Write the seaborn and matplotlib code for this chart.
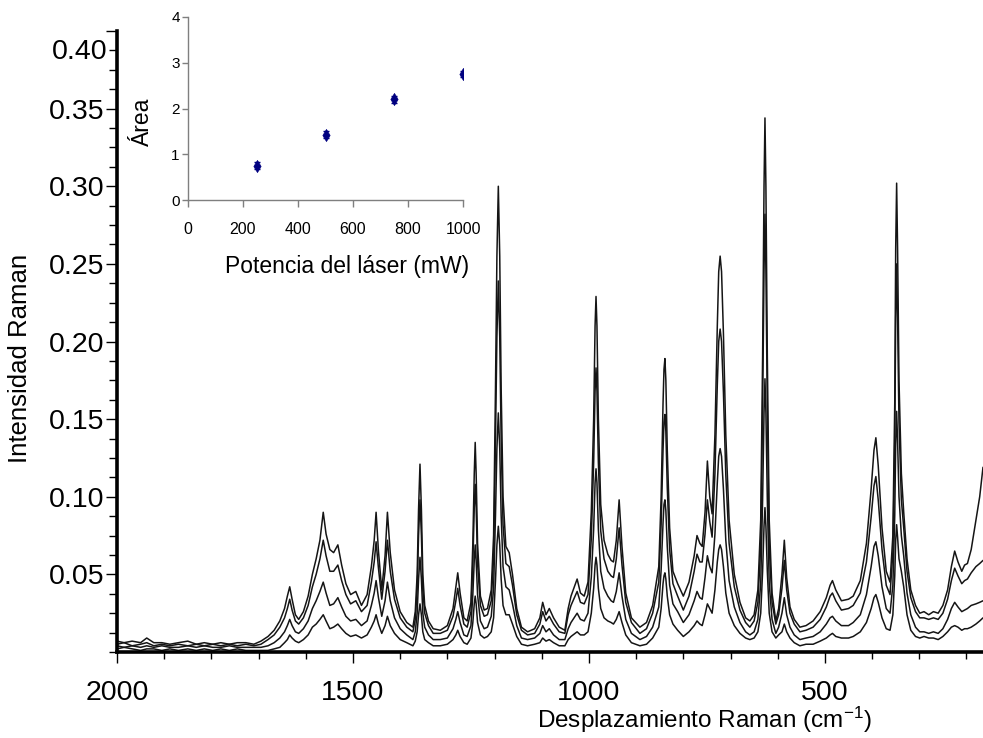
import numpy as np
import pandas as pd
import seaborn as sns
import matplotlib
matplotlib.use("Agg")
import matplotlib.pyplot as plt
from matplotlib.ticker import MultipleLocator, FixedLocator, FuncFormatter

# ---------------- data ----------------
wavenumber = [2000, 1985, 1968, 1950, 1937, 1922, 1905, 1888, 1870, 1850, 1832, 1815, 1797, 1780, 1762, 1745, 1727, 1710,
              1695, 1680, 1667, 1655, 1645, 1639, 1634, 1629, 1622, 1615, 1605, 1595, 1586, 1578, 1570, 1563, 1557, 1549,
              1541, 1532, 1524, 1515, 1505, 1494, 1482, 1470, 1461, 1455, 1451, 1446, 1439, 1432, 1427, 1421, 1412, 1400,
              1386, 1373, 1368, 1364, 1361, 1358, 1355, 1352, 1348, 1340, 1330, 1315, 1300,
              1288, 1282, 1278, 1273, 1265, 1258, 1250, 1246, 1243, 1241, 1239, 1236, 1230, 1222, 1215,
              1207, 1202, 1198, 1195, 1192, 1189, 1186, 1182, 1176, 1169, 1162, 1153, 1143, 1130,
              1115, 1104, 1098, 1091, 1084, 1075, 1063, 1051, 1044, 1038, 1025, 1018, 1010, 1002,
              995, 990, 987, 985, 983, 980, 975, 968, 960, 953, 948,
              942, 936, 930, 922, 910, 892, 878, 865,
              852, 847, 843, 841, 839, 837, 834, 829, 822, 812, 800,
              788, 777, 771, 765, 760, 754, 749, 744, 739,
              733, 728, 725, 722, 719, 715, 710, 703, 692, 680, 668, 659,
              650, 642, 636, 632, 629, 627, 625, 622, 618, 612, 604,
              598, 591, 586, 581, 574, 565, 553, 540, 525, 510, 497, 489, 484, 477, 465, 450, 440, 425, 412,
              402, 396, 392, 387, 379, 370, 362,
              356, 352, 350, 348, 346, 343, 338, 333, 326, 318, 308, 299,
              290, 280, 270, 260, 250, 240, 232, 225, 218, 210, 204, 198, 190, 180, 172, 165]

int_1000mW = [.007, .006, .007, .006, .009, .006, .006, .005, .006, .007, .005, .006, .005, .006, .005, .006, .006, .005,
              .007, .010, .014, .020, .028, .036, .042, .034, .024, .021, .026, .036, .050, .060, .072, .090, .076, .066,
              .064, .069, .056, .044, .037, .039, .030, .037, .055, .072, .090, .065, .040, .062, .090, .064, .040, .026,
              .019, .016, .026, .050, .092, .121, .092, .050, .030, .020, .015, .014, .017,
              .028, .042, .051, .038, .022, .020, .032, .070, .115, .135, .115, .070, .036, .027, .028,
              .040, .075, .170, .255, .300, .255, .170, .100, .068, .064, .050, .028, .016, .013,
              .015, .022, .032, .024, .028, .022, .016, .014, .028, .036, .047, .038, .036, .045,
              .090, .150, .210, .229, .210, .150, .095, .072, .063, .059, .058,
              .072, .098, .068, .038, .022, .016, .019, .030,
              .055, .100, .160, .182, .189, .175, .130, .080, .052, .044, .036,
              .045, .062, .075, .070, .068, .090, .123, .100, .089,
              .140, .210, .245, .255, .245, .205, .140, .085, .050, .032, .022, .020,
              .024, .040, .085, .190, .300, .344, .300, .190, .085, .038, .020,
              .028, .050, .072, .048, .029, .021, .016, .017, .020, .026, .035, .043, .046, .040, .033, .034, .036, .046, .070,
              .105, .130, .138, .120, .080, .052, .045,
              .075, .160, .260, .302, .260, .175, .115, .090, .060, .040, .030, .025,
              .026, .024, .026, .025, .030, .040, .055, .065, .058, .052, .056, .057, .066, .085, .100, .119]

int_750mW = [.005, .006, .004, .005, .006, .004, .005, .004, .005, .004, .005, .004, .005, .004, .005, .004, .005, .004,
             .005, .008, .011, .016, .022, .028, .034, .027, .020, .018, .022, .030, .042, .050, .060, .072, .062, .052,
             .052, .056, .046, .037, .031, .033, .026, .030, .045, .058, .071, .054, .034, .052, .072, .052, .034, .022,
             .016, .013, .021, .040, .075, .098, .075, .040, .025, .017, .012, .012, .014,
             .023, .033, .041, .030, .018, .016, .026, .057, .093, .108, .093, .057, .030, .023, .024,
             .033, .061, .136, .203, .239, .203, .136, .082, .057, .055, .043, .024, .014, .011,
             .012, .018, .026, .020, .023, .018, .013, .012, .024, .030, .039, .032, .031, .037,
             .073, .122, .168, .183, .168, .122, .078, .060, .052, .049, .048,
             .060, .080, .056, .032, .019, .012, .015, .025,
             .045, .082, .130, .148, .153, .142, .106, .066, .044, .036, .027,
             .036, .052, .063, .058, .058, .076, .098, .084, .074,
             .115, .172, .200, .208, .200, .167, .114, .070, .042, .027, .019, .016,
             .020, .032, .068, .155, .246, .282, .246, .155, .068, .032, .018,
             .024, .041, .059, .040, .025, .018, .013, .014, .016, .021, .029, .036, .038, .033, .027, .028, .030, .038, .058,
             .087, .107, .113, .098, .066, .043, .037,
             .064, .135, .215, .250, .215, .148, .098, .080, .052, .035, .026, .022,
             .022, .021, .022, .021, .025, .034, .046, .054, .049, .044, .046, .047, .051, .055, .057, .059]

int_500mW = [.004, .003, .004, .003, .004, .003, .004, .003, .003, .004, .003, .004, .003, .003, .004, .003, .003, .003,
             .003, .004, .006, .009, .013, .017, .021, .017, .013, .012, .015, .020, .028, .033, .039, .045, .038, .030,
             .031, .035, .029, .023, .020, .021, .017, .020, .030, .038, .046, .035, .023, .033, .045, .033, .022, .015,
             .011, .008, .013, .025, .047, .061, .047, .025, .016, .011, .008, .008, .009,
             .015, .021, .026, .019, .011, .010, .017, .037, .059, .069, .059, .037, .020, .015, .016,
             .023, .041, .088, .131, .154, .131, .088, .055, .042, .040, .031, .017, .009, .008,
             .009, .012, .017, .013, .015, .011, .008, .008, .015, .019, .025, .021, .020, .025,
             .048, .079, .109, .118, .109, .079, .052, .041, .036, .033, .032,
             .039, .051, .036, .021, .012, .008, .010, .016,
             .029, .053, .083, .095, .098, .091, .068, .043, .031, .026, .019,
             .024, .033, .039, .035, .034, .048, .062, .055, .051,
             .076, .109, .126, .131, .126, .105, .072, .046, .029, .019, .013, .011,
             .013, .021, .044, .098, .154, .176, .154, .098, .044, .021, .012,
             .016, .025, .035, .024, .016, .011, .008, .009, .010, .013, .018, .022, .023, .020, .017, .017, .019, .024, .037,
             .055, .068, .071, .062, .042, .028, .025,
             .043, .088, .134, .155, .136, .100, .075, .062, .038, .024, .016, .013,
             .013, .012, .013, .012, .015, .021, .028, .032, .029, .026, .027, .028, .030, .031, .032, .033]

int_250mW = [.002, .003, .002, .001, .002, .002, .001, .002, .001, .002, .001, .002, .001, .002, .001, .002, .001, .001,
             .001, .001, .002, .003, .006, .008, .011, .009, .007, .006, .008, .011, .016, .018, .021, .024, .020, .015,
             .016, .018, .015, .012, .010, .011, .009, .011, .016, .020, .024, .018, .012, .017, .023, .017, .012, .008,
             .006, .004, .007, .013, .024, .031, .024, .013, .008, .006, .004, .004, .005,
             .008, .011, .014, .010, .006, .005, .009, .019, .031, .036, .031, .019, .011, .009, .010,
             .013, .022, .046, .069, .081, .069, .047, .030, .024, .024, .018, .010, .005, .004,
             .005, .006, .009, .007, .008, .006, .004, .004, .008, .010, .013, .011, .011, .013,
             .025, .041, .056, .061, .056, .041, .028, .022, .020, .019, .018,
             .021, .026, .019, .011, .006, .004, .005, .009,
             .016, .028, .044, .049, .051, .047, .036, .024, .018, .014, .010,
             .013, .017, .020, .018, .017, .024, .031, .028, .025,
             .040, .058, .066, .069, .066, .055, .038, .025, .017, .012, .009, .008,
             .009, .013, .025, .052, .081, .093, .081, .052, .025, .013, .009,
             .011, .013, .018, .013, .009, .006, .004, .005, .005, .007, .009, .011, .012, .010, .009, .009, .010, .013, .019,
             .028, .035, .037, .032, .022, .015, .014,
             .024, .049, .072, .082, .074, .060, .052, .042, .024, .014, .010, .009,
             .010, .009, .009, .008, .010, .013, .016, .017, .016, .014, .015, .015, .016, .018, .020, .022]

curve_names = ["1000 mW", "750 mW", "500 mW", "250 mW"]

laser_power = [250, 500, 750, 1000]
area = [0.75, 1.43, 2.20, 2.75]
area_err = [0.07, 0.07, 0.07, 0.07]

y_major = [0.05, 0.10, 0.15, 0.20, 0.25, 0.30, 0.35, 0.40]
x_major = [2000, 1500, 1000, 500]

# ---------------- style ----------------
sns.set_style("ticks")
plt.rcParams["font.family"] = ["Liberation Sans", "DejaVu Sans"]
plt.rcParams["mathtext.fontset"] = "custom"
plt.rcParams["mathtext.rm"] = "Liberation Sans"
plt.rcParams["mathtext.default"] = "regular"

W, H = 983, 738
fig = plt.figure(figsize=(W / 100, H / 100), dpi=100)

# main axes (pixel box: left 117, right 983, top 31, bottom 652)
ax = fig.add_axes([117 / W, (H - 652) / H, 866 / W, 621 / H])

frames = []
for name, vals in zip(curve_names, [int_1000mW, int_750mW, int_500mW, int_250mW]):
    frames.append(pd.DataFrame({"w": wavenumber, "I": vals, "curve": name}))
df = pd.concat(frames, ignore_index=True)

sns.lineplot(data=df, x="w", y="I", hue="curve", palette=["#151515"] * 4,
             estimator=None, sort=False, legend=False, linewidth=1.1, ax=ax)

ax.set_xlim(2000, 165)
ax.set_ylim(0.0, 0.40)
for s in ["top", "right"]:
    ax.spines[s].set_visible(False)
for s in ["left", "bottom"]:
    ax.spines[s].set_linewidth(2.6)
    ax.spines[s].set_color("black")

ax.yaxis.set_major_locator(FixedLocator(y_major))
ax.yaxis.set_minor_locator(MultipleLocator(0.0125))
ax.yaxis.set_major_formatter(FuncFormatter(lambda v, p: "" if v > 0.395 else f"{v:.2f}"))
ax.xaxis.set_major_locator(FixedLocator(x_major))
ax.xaxis.set_minor_locator(MultipleLocator(100))
ax.xaxis.set_major_formatter(FuncFormatter(lambda v, p: f"{v:.0f}"))

ax.tick_params(axis="y", which="major", direction="out", length=8, width=1, pad=1,
               labelsize=20.5, colors="black")
ax.tick_params(axis="y", which="minor", direction="out", length=6, width=1, colors="black")
ax.tick_params(axis="x", which="major", direction="out", length=8, width=1, pad=12,
               labelsize=20.5, colors="black")
ax.tick_params(axis="x", which="minor", direction="out", length=5, width=1, colors="black")

# top label sits lower than its tick in the original
ax.text(-0.0105, 0.3866, "0.40", transform=ax.get_yaxis_transform(), ha="right",
        va="center", fontsize=20.5, color="black")

ax.set_xlabel("Desplazamiento Raman (cm$^{-1}$)", fontsize=17.5, color="black")
ax.xaxis.label.set_va("center")
ax.xaxis.set_label_coords(0.678, -0.1095)
ax.set_ylabel("Intensidad Raman", fontsize=18.5, color="black")
ax.yaxis.label.set_va("center")
ax.yaxis.set_label_coords(-0.112, 0.473)
ax.set_facecolor("none")

# inset (pixel box: left 188, right 463, top 17, bottom 200)
ins = fig.add_axes([188 / W, (H - 200) / H, 275 / W, 183 / H])
ins.set_facecolor("none")
ins.errorbar(laser_power, area, yerr=area_err, fmt="none", ecolor="#000080",
             elinewidth=1.0, capsize=2.5, capthick=1.0, zorder=2)
sns.scatterplot(x=laser_power, y=area, marker="d", s=38, color="#000080",
                edgecolor="#000080", ax=ins, zorder=3)
ins.set_xlim(0, 1000)
ins.set_ylim(0, 4)
ins.xaxis.set_major_locator(MultipleLocator(200))
ins.yaxis.set_major_locator(MultipleLocator(1))
for s in ["top", "right"]:
    ins.spines[s].set_visible(False)
for s in ["left", "bottom"]:
    ins.spines[s].set_color("#7f7f7f")
    ins.spines[s].set_linewidth(1.0)
ins.tick_params(axis="x", direction="out", length=5, width=1, color="#7f7f7f",
                pad=11, labelsize=11.5, labelcolor="black")
ins.tick_params(axis="y", direction="out", length=4, width=1, color="#7f7f7f",
                pad=2, labelsize=11, labelcolor="black")
for lab in ins.get_xticklabels():
    lab.set_family(["Liberation Sans Narrow", "Liberation Sans"])
ins.set_xlabel("Potencia del láser (mW)", fontsize=16.5, color="black")
ins.xaxis.label.set_va("center")
ins.xaxis.set_label_coords(0.578, -0.366)
ins.set_ylabel("Área", fontsize=16.5, color="black")
ins.yaxis.label.set_va("center")
ins.yaxis.set_label_coords(-0.164, 0.426)

fig.savefig("out.png", dpi=100, facecolor="white")
